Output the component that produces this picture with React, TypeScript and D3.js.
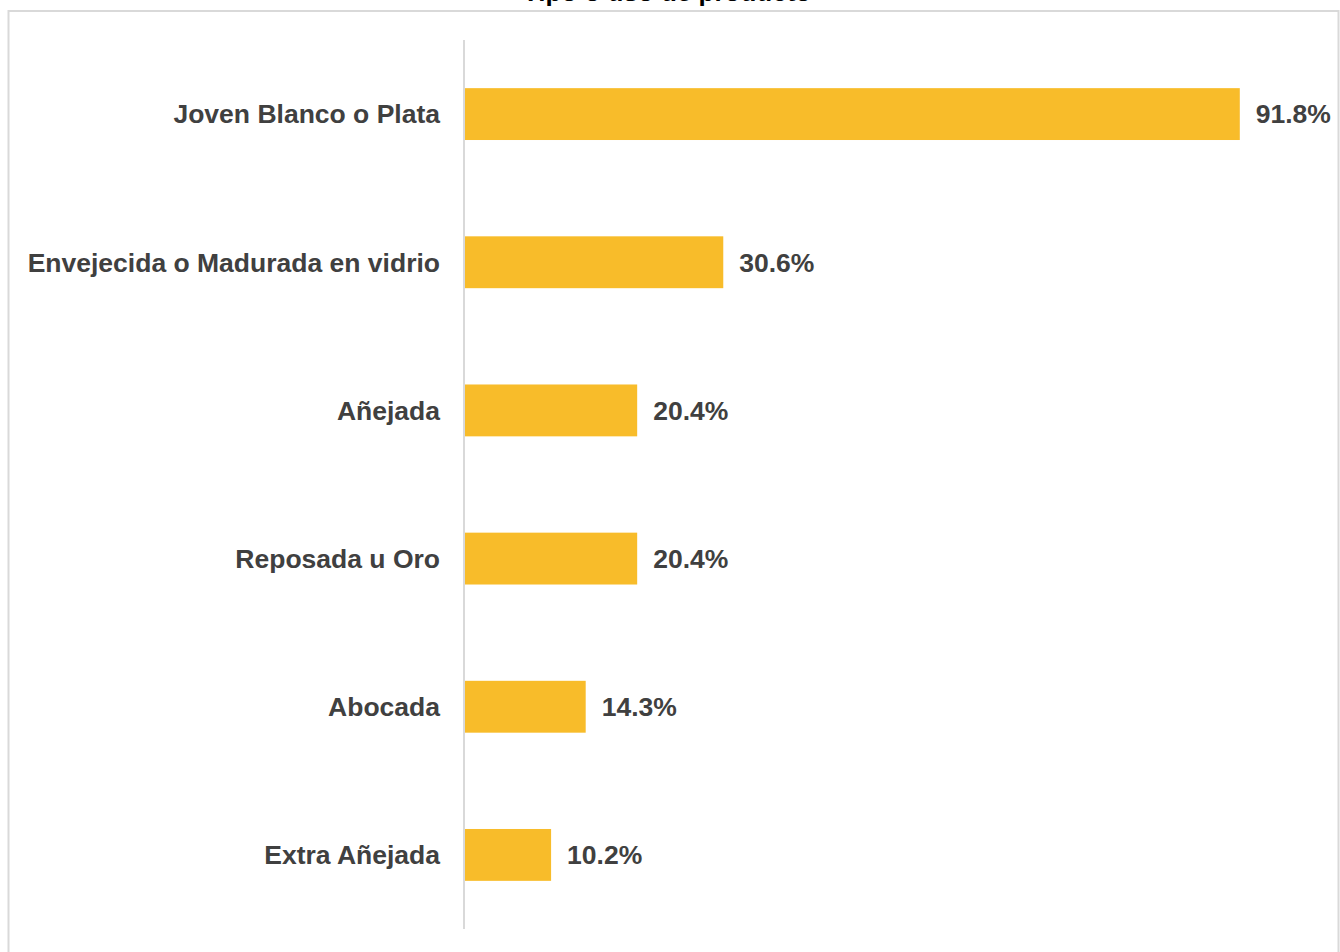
import React from "react";
import * as d3 from "d3";

const categories = [
  "Joven Blanco o Plata",
  "Envejecida o Madurada en vidrio",
  "Añejada",
  "Reposada u Oro",
  "Abocada",
  "Extra Añejada",
];
const values = [91.8, 30.6, 20.4, 20.4, 14.3, 10.2];
const title = "Tipo o uso de producto";

const W = 1340;
const H = 952;

export default function App() {
  const x = d3.scaleLinear().domain([0, 100]).range([465, 1309]);
  const y = d3
    .scaleBand<string>()
    .domain(categories)
    .range([40, 929])
    .paddingInner(0.65)
    .paddingOuter(0.325);
  const font = "'Liberation Sans', Arial, sans-serif";
  return (
    <svg
      width={W}
      height={H}
      style={{ position: "absolute", left: 0, top: 0, background: "#fff" }}
    >
      <text
        x={667}
        y={0.5}
        textAnchor="middle"
        fontFamily={font}
        fontWeight="bold"
        fontSize={26}
        fill="#000"
      >
        {title}
      </text>
      <rect x={8.5} y={11} width={1330} height={960} fill="none" stroke="#d9d9d9" strokeWidth={2} />
      <line x1={464} x2={464} y1={40} y2={929} stroke="#d9d9d9" strokeWidth={2} />
      {categories.map((c, i) => (
        <g key={c}>
          <rect
            x={x(0)}
            y={y(c)!}
            width={x(values[i]) - x(0)}
            height={y.bandwidth()}
            fill="#F8BC2A"
          />
          <text
            x={440}
            y={y(c)! + y.bandwidth() / 2}
            dy="0.35em"
            textAnchor="end"
            fontFamily={font}
            fontWeight="bold"
            fontSize={26.5}
            fill="#404040"
          >
            {c}
          </text>
          <text
            x={x(values[i]) + 16}
            y={y(c)! + y.bandwidth() / 2}
            dy="0.35em"
            textAnchor="start"
            fontFamily={font}
            fontWeight="bold"
            fontSize={26.5}
            fill="#404040"
          >
            {values[i].toFixed(1) + "%"}
          </text>
        </g>
      ))}
    </svg>
  );
}
